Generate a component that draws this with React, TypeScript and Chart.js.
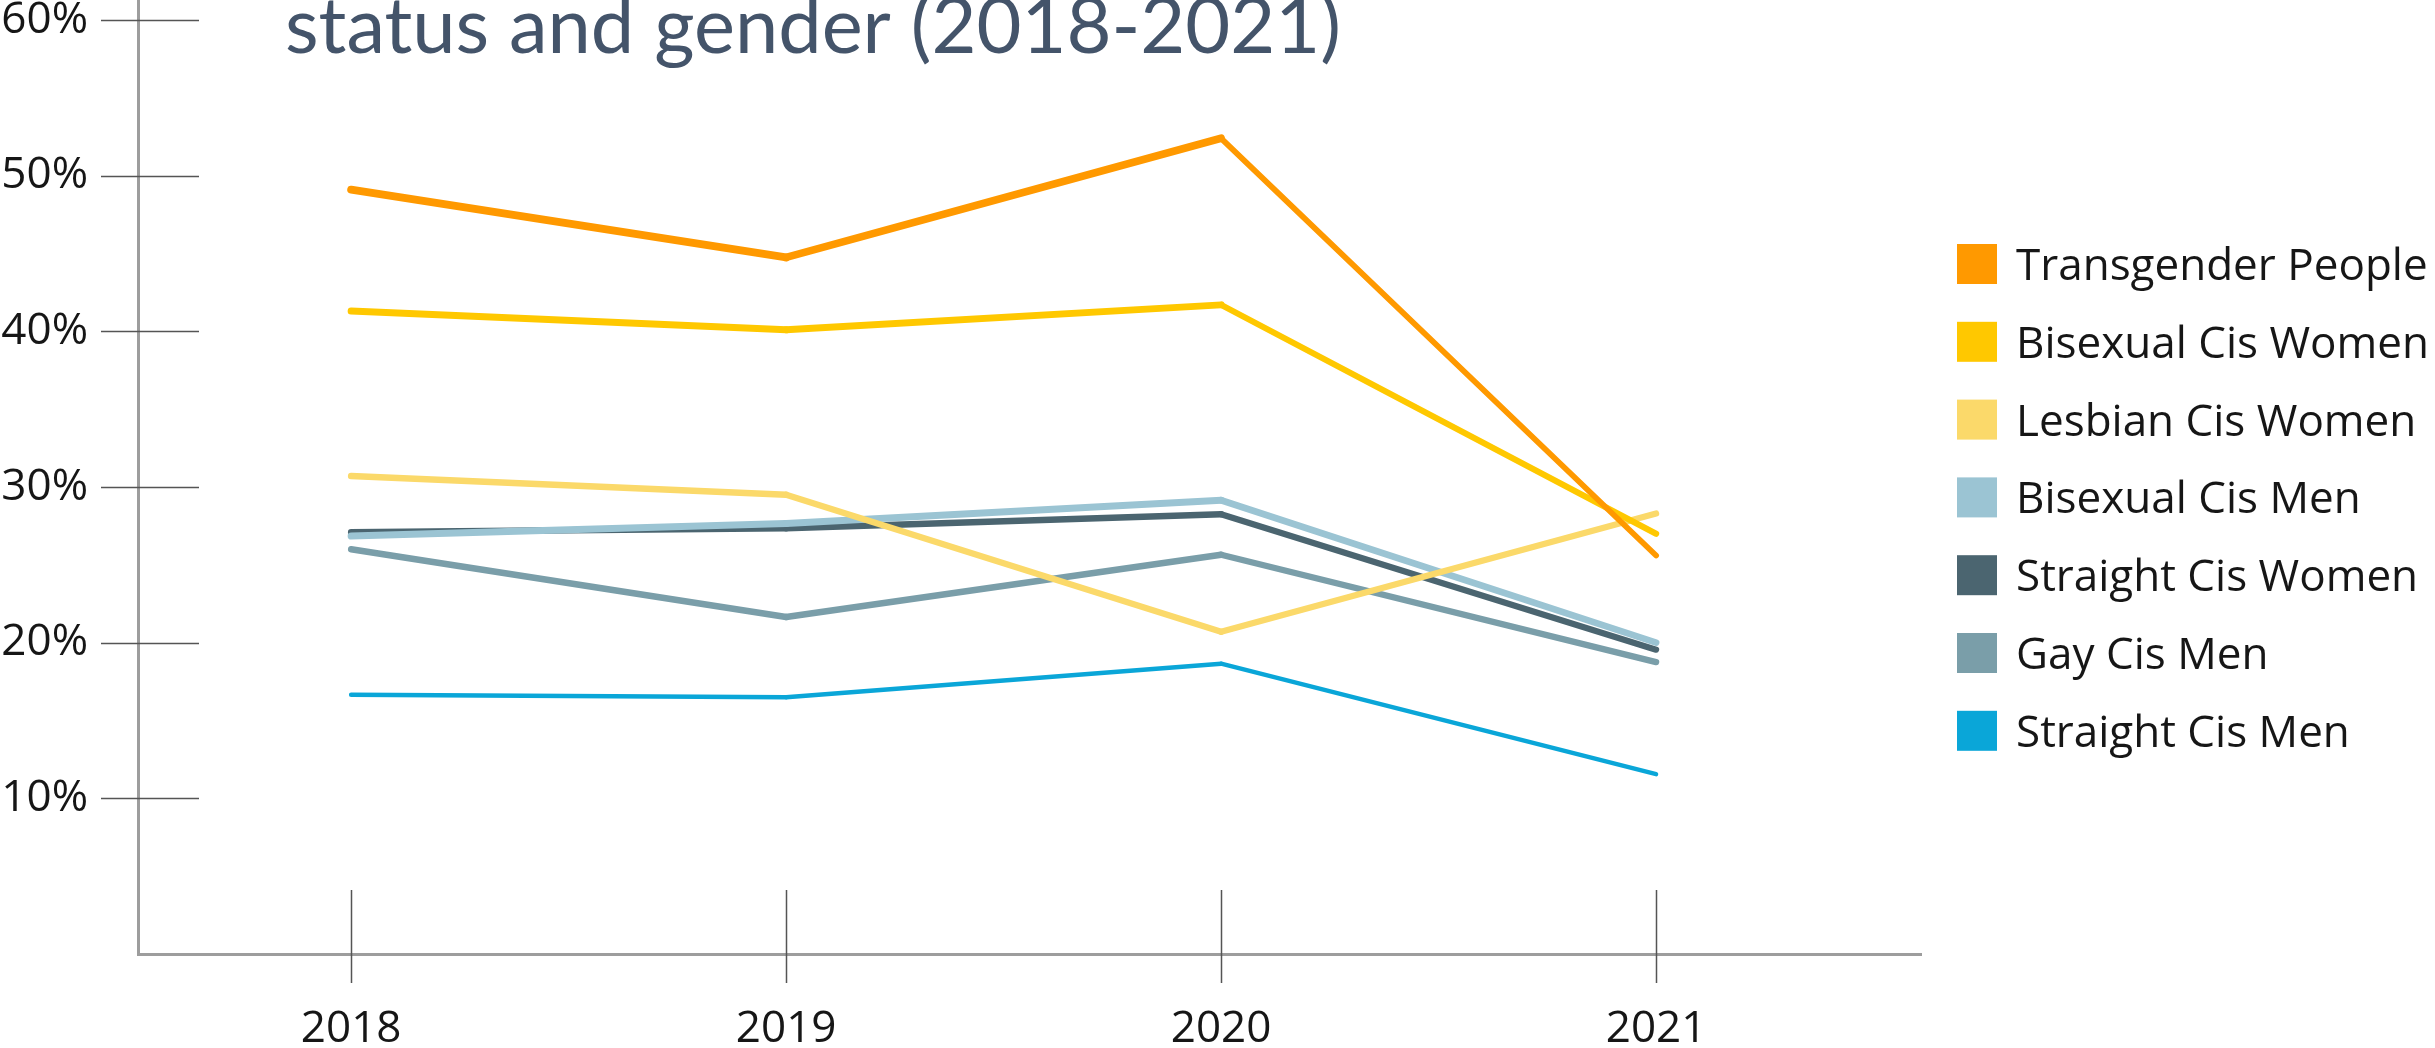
import React, { useEffect, useRef } from "react";
import { Chart, registerables } from "chart.js";

Chart.register(...registerables);

// ---- data ----
const years = [2018, 2019, 2020, 2021];
const seriesLabels = [
  "Transgender People",
  "Bisexual Cis Women",
  "Lesbian Cis Women",
  "Bisexual Cis Men",
  "Straight Cis Women",
  "Gay Cis Men",
  "Straight Cis Men",
];
const transgenderPeople = [49.1, 44.75, 52.4, 25.6];
const bisexualCisWomen = [41.3, 40.1, 41.7, 27.0];
const lesbianCisWomen = [30.7, 29.5, 20.7, 28.3];
const bisexualCisMen = [26.85, 27.65, 29.15, 20.0];
const straightCisWomen = [27.1, 27.35, 28.25, 19.55];
const gayCisMen = [26.0, 21.65, 25.65, 18.75];
const straightCisMen = [16.65, 16.5, 18.65, 11.55];
const yTickValues = [10, 20, 30, 40, 50, 60];
const titleText = "status and gender (2018-2021)";

// ---- styles ----
const seriesColors = ["#ff9900", "#ffc800", "#fbd96a", "#9bc4d3", "#4b6570", "#7a9ea9", "#0aa6d8"];
const seriesWidths = [8, 7, 6.5, 7, 6.5, 6.5, 4.5];
const allSeries = [
  transgenderPeople,
  bisexualCisWomen,
  lesbianCisWomen,
  bisexualCisMen,
  straightCisWomen,
  gayCisMen,
  straightCisMen,
];

const W = 2435;
const H = 1048;
const FONT = "'Open Sans', 'DejaVu Sans', sans-serif";

const titlePlugin = {
  id: "pageTitle",
  afterDraw(chart: any) {
    const ctx = chart.ctx;
    ctx.save();
    ctx.font = `77px Lato, 'Open Sans', sans-serif`;
    ctx.fillStyle = "#44546a";
    ctx.textBaseline = "alphabetic";
    ctx.textAlign = "left";
    const w = ctx.measureText(titleText).width;
    const sx = 1056 / w;
    ctx.translate(285, 53);
    ctx.scale(sx, 1);
    ctx.fillText(titleText, 0, 0);
    ctx.restore();
  },
};

const tickMarksPlugin = {
  id: "crossTicks",
  beforeDatasetsDraw(chart: any) {
    const ctx = chart.ctx;
    const ys = chart.scales.y;
    const xs = chart.scales.x;
    const area = chart.chartArea;
    ctx.save();
    ctx.strokeStyle = "#555555";
    ctx.lineWidth = 1.5;
    ctx.beginPath();
    ys.ticks.forEach((t: any) => {
      const py = Math.round(ys.getPixelForValue(t.value)) + 0.5;
      ctx.moveTo(area.left - 37, py);
      ctx.lineTo(area.left + 61, py);
    });
    xs.ticks.forEach((t: any) => {
      const px = Math.round(xs.getPixelForValue(t.value)) + 0.5;
      ctx.moveTo(px, area.bottom - 64);
      ctx.lineTo(px, area.bottom + 29);
    });
    ctx.stroke();
    ctx.restore();
  },
};

const legendPlugin = {
  id: "sideLegend",
  afterDraw(chart: any) {
    const ctx = chart.ctx;
    ctx.save();
    ctx.font = `44px ${FONT}`;
    ctx.textBaseline = "alphabetic";
    ctx.textAlign = "left";
    chart.data.datasets.forEach((ds: any, i: number) => {
      const cy = 264 + i * 77.8;
      ctx.fillStyle = ds.borderColor;
      ctx.fillRect(1957, cy - 20, 40, 40);
      ctx.fillStyle = "#161616";
      ctx.fillText(ds.label, 2016, cy + 16);
    });
    ctx.restore();
  },
};

export default function App() {
  const ref = useRef<HTMLCanvasElement | null>(null);

  useEffect(() => {
    if (!ref.current) return;
    Chart.defaults.font.family = FONT;
    const datasets = seriesLabels.map((label, i) => {
      const flat = seriesWidths[i];
      return {
        label,
        data: years.map((yr, j) => ({ x: yr, y: allSeries[i][j] })),
        borderColor: seriesColors[i],
        backgroundColor: seriesColors[i],
        borderWidth: flat,
        borderCapStyle: "round" as const,
        borderJoinStyle: "round" as const,
        pointRadius: 0,
        pointHoverRadius: 0,
        tension: 0,
        fill: false,
        segment: {
          borderWidth: (c: any) => {
            const dx = c.p1.x - c.p0.x;
            const dy = c.p1.y - c.p0.y;
            const len = Math.hypot(dx, dy) || 1;
            const cos = Math.abs(dx) / len;
            return flat * Math.max(0.6, cos);
          },
        },
      };
    });

    const chart = new Chart(ref.current, {
      type: "line",
      data: { datasets },
      options: {
        animation: false,
        responsive: false,
        devicePixelRatio: 1,
        events: [],
        layout: { autoPadding: false, padding: { left: 0, top: 0, right: 514, bottom: 0 } },
        plugins: {
          legend: { display: false },
          title: { display: false },
          tooltip: { enabled: false },
        },
        scales: {
          x: {
            type: "linear",
            min: 2017.51,
            max: 2021.609,
            afterBuildTicks: (s: any) => {
              s.ticks = years.map((v) => ({ value: v }));
            },
            afterFit: (s: any) => {
              s.height = 94;
              s.paddingLeft = 0;
              s.paddingRight = 0;
            },
            grid: { display: false, drawTicks: false },
            border: { display: true, color: "#9d9d9d", width: 3 },
            ticks: {
              callback: (v: any) => String(v),
              font: { size: 44, family: FONT },
              color: "#161616",
              padding: 49,
              maxRotation: 0,
              autoSkip: false,
            },
          },
          y: {
            type: "linear",
            min: 0,
            max: 61.285,
            afterBuildTicks: (s: any) => {
              s.ticks = yTickValues.map((v) => ({ value: v }));
            },
            afterFit: (s: any) => {
              s.width = 138;
              s.paddingTop = 0;
              s.paddingBottom = 0;
            },
            grid: { display: false, drawTicks: false },
            border: { display: true, color: "#9d9d9d", width: 3 },
            ticks: {
              callback: (v: any) => `${v}%`,
              font: { size: 44, family: FONT },
              color: "#161616",
              padding: 50,
              autoSkip: false,
            },
          },
        },
      },
      plugins: [tickMarksPlugin, titlePlugin, legendPlugin],
    } as any);

    return () => chart.destroy();
  }, []);

  return (
    <div style={{ position: "fixed", left: 0, top: 0, width: W, height: H, background: "#ffffff" }}>
      <canvas ref={ref} width={W} height={H} style={{ width: W, height: H, display: "block" }} />
    </div>
  );
}
